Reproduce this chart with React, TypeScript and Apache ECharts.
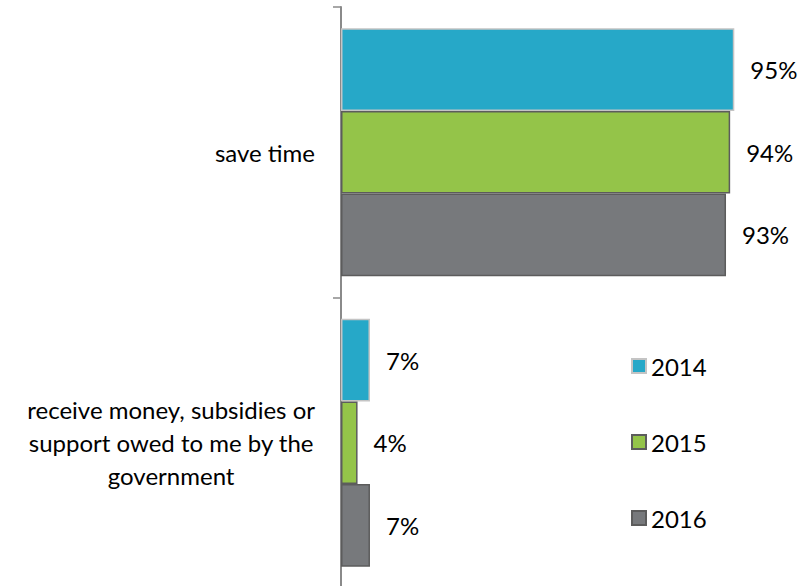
import React, { useEffect, useRef } from "react";
import * as echarts from "echarts";

const categories = [
  "save time",
  "receive money, subsidies or\nsupport owed to me by the\ngovernment",
];
const seriesNames = ["2014", "2015", "2016"];
const values2014 = [95, 7];
const values2015 = [94, 4];
const values2016 = [93, 7];

const FONT = "Lato, 'Open Sans', sans-serif";

export default function App() {
  const ref = useRef<HTMLDivElement>(null);
  useEffect(() => {
    if (!ref.current) return;
    const chart = echarts.init(ref.current, undefined, { renderer: "svg" });
    const colors = ["#26A8C8", "#94C449", "#77797C"];
    const borders = ["#c4c4c4", "#5c5c5c", "#5c5c5c"];
    const data = [values2014, values2015, values2016];
    chart.setOption({
      animation: false,
      backgroundColor: "#ffffff",
      textStyle: { fontFamily: FONT },
      legend: {
        orient: "vertical",
        left: 626,
        top: 348,
        itemWidth: 14,
        itemHeight: 14,
        itemGap: 50,
        icon: "rect",
        data: seriesNames,
        textStyle: { fontSize: 24, color: "#000", lineHeight: 26, fontFamily: FONT },
      },
      grid: { left: 341, right: 45, top: 7, bottom: 12, containLabel: false },
      xAxis: {
        type: "value",
        min: 0,
        max: 100,
        show: false,
      },
      yAxis: {
        type: "category",
        inverse: true,
        data: categories,
        axisLine: { show: true, lineStyle: { color: "#8a8a8a", width: 2 } },
        axisTick: { show: true, length: 8, lineStyle: { color: "#8a8a8a", width: 1.5 } },
        splitLine: { show: false },
        axisLabel: {
          margin: 26,
          fontSize: 24,
          color: "#000",
          fontFamily: FONT,
          lineHeight: 33,
          formatter: (v: string) =>
            v
              .split("\n")
              .map((l) => `{c|${l}}`)
              .join("\n"),
          rich: { c: { align: "center", fontSize: 24, lineHeight: 33, color: "#000", fontFamily: FONT } },
        },
      },
      series: seriesNames.map((name, i) => ({
        name,
        type: "bar",
        data: data[i],
        barGap: "0%",
        barCategoryGap: "14.6%",
        itemStyle: { color: colors[i], borderColor: borders[i], borderWidth: 1.5 },
        label: {
          show: true,
          position: "right",
          distance: 16,
          formatter: "{c}%",
          fontSize: 24,
          color: "#000",
          fontFamily: FONT,
        },
      })),
    });
    return () => chart.dispose();
  }, []);
  return (
    <div style={{ position: "fixed", left: 0, top: 0, width: 800, height: 586, overflow: "hidden", background: "#fff" }}>
      <div ref={ref} style={{ width: 800, height: 600 }} />
    </div>
  );
}
